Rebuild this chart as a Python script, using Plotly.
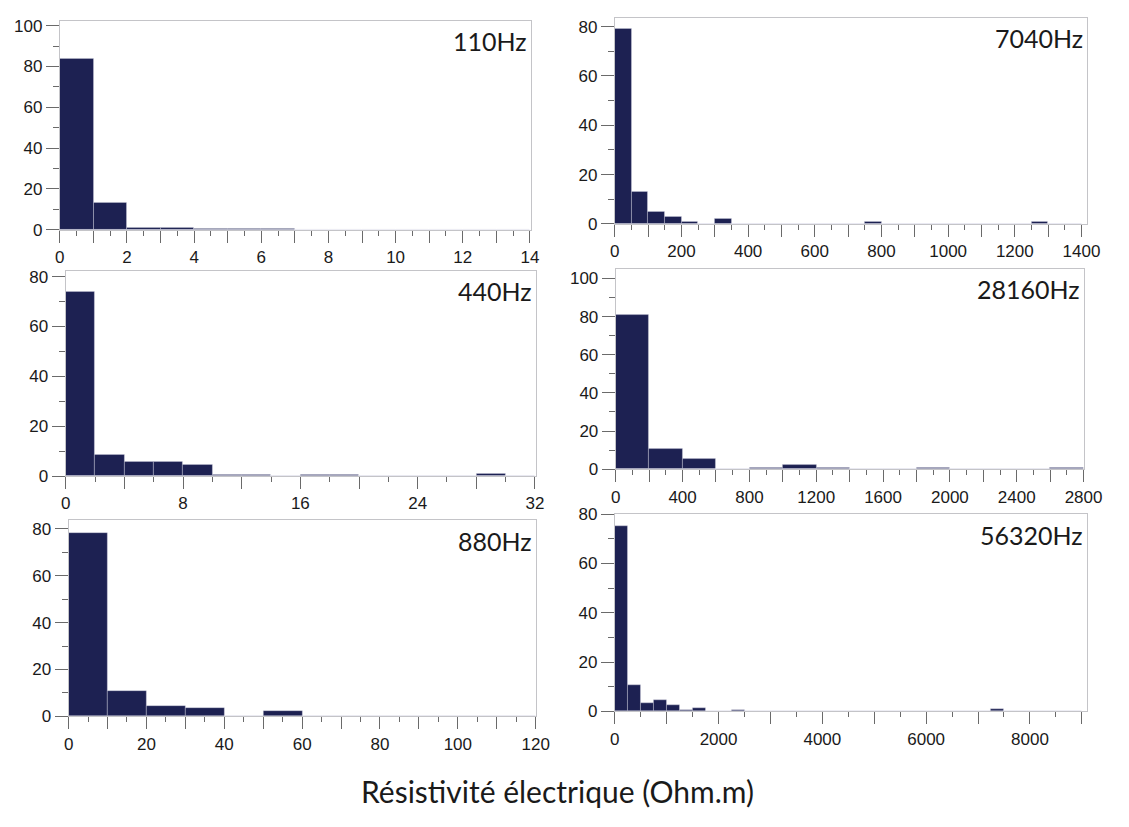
import plotly.graph_objects as go

# Histogram counts (%) of electrical resistivity for each frequency
labels = ["110Hz", "7040Hz", "440Hz", "28160Hz", "880Hz", "56320Hz"]
bin_widths = [1, 50, 2, 200, 10, 250]

counts_110 = [84, 13.5, 1.2, 1.2, 0.3, 0.3, 0.3, 0, 0, 0, 0, 0, 0, 0]
counts_7040 = [79, 13, 5, 3, 1, 0, 2, 0, 0, 0, 0, 0, 0, 0, 0, 1,
               0, 0, 0, 0, 0, 0, 0, 0, 0, 1, 0, 0]
counts_440 = [74, 8.5, 5.5, 5.5, 4.5, 0.5, 0.5, 0, 0.5, 0.5, 0, 0, 0, 0, 1, 0]
counts_28160 = [81, 10.5, 5.5, 0, 0.5, 2.5, 0.5, 0, 0, 0.5, 0, 0, 0, 0.5]
counts_880 = [78, 11, 4.5, 3.5, 0.3, 2.5, 0, 0, 0.2, 0, 0.3, 0]
counts_56320 = [75, 10.5, 3.5, 4.5, 2.5, 0.5, 1.5, 0.2, 0.2, 0.5, 0.2, 0,
                0.3, 0.3, 0, 0, 0, 0, 0, 0, 0, 0, 0, 0, 0, 0, 0, 0,
                0, 0.8, 0, 0, 0, 0, 0, 0]
all_counts = [counts_110, counts_7040, counts_440, counts_28160, counts_880, counts_56320]

# x tick labelling per panel: label step, major tick step, minor tick step, axis end
x_label_step = [2, 200, 8, 400, 20, 2000]
x_major_step = [1, 100, 4, 200, 10, 1000]
x_minor_step = [0.5, 50, 2, 100, 5, 500]
x_end = [14, 1400, 32, 2800, 120, 9000]
y_top_tick = [100, 80, 80, 100, 80, 80]

# Panel geometry in pixels: left, right, top, bottom of plot area; x/y range maxima
W, H = 1129, 827
boxes = [
    (56, 537, 12, 226),
    (623, 1105, 9, 220),
    (62, 543, 268, 478),
    (624, 1102, 266, 471),
    (65, 543, 523, 724),
    (623, 1105, 517, 719),
]
x_max = [14.02, 1415, 32.1, 2800, 120.2, 9090]
y_max = [102.4, 83.6, 82.35, 105, 83.75, 80]

BAR = "#1d2152"
FRAME = "#c4c4c8"
TICK = "#6a6a6a"
TXT = "#1a1a1a"
TICKFONT = dict(family="Liberation Sans", size=17, color=TXT)

fig = go.Figure()

for i in range(6):
    n = "" if i == 0 else str(i + 1)
    w = bin_widths[i]
    c = all_counts[i]
    centers = [w * (k + 0.5) for k in range(len(c))]
    fig.add_trace(go.Bar(
        x=centers, y=c, width=[w] * len(c),
        marker=dict(color=BAR, line=dict(color="rgba(215,215,230,0.6)", width=0.6)),
        xaxis="x" + n, yaxis="y" + n, showlegend=False,
    ))

    l, r, t, b = boxes[i]
    xdom = [l / W, r / W]
    ydom = [1 - b / H, 1 - t / H]

    step = x_major_step[i]
    nmaj = int(round(x_end[i] / step))
    tv = [step * k for k in range(nmaj + 1)]
    tt = []
    for v in tv:
        if abs(v / x_label_step[i] - round(v / x_label_step[i])) < 1e-9:
            tt.append(str(int(v)) if float(v).is_integer() else str(v))
        else:
            tt.append("")

    fig.layout["xaxis" + n] = dict(
        domain=xdom, anchor="y" + n, range=[0, x_max[i]],
        tickvals=tv, ticktext=tt, ticks="outside", ticklen=12,
        tickcolor=TICK, tickwidth=1,
        minor=dict(dtick=x_minor_step[i], tick0=0, ticks="outside", ticklen=5,
                   tickcolor=TICK, tickwidth=1),
        showline=True, linecolor=FRAME, linewidth=1, mirror=True,
        showgrid=False, zeroline=False,
        tickfont=TICKFONT,
        fixedrange=True,
    )
    fig.layout["yaxis" + n] = dict(
        domain=ydom, anchor="x" + n, range=[0, y_max[i]],
        tickvals=list(range(0, y_top_tick[i] + 1, 20)),
        ticks="outside", ticklen=13, tickcolor=TICK, tickwidth=1,
        minor=dict(dtick=10, tick0=0, ticks="outside", ticklen=6,
                   tickcolor=TICK, tickwidth=1),
        showline=True, linecolor=FRAME, linewidth=1, mirror=True,
        showgrid=False, zeroline=False,
        tickfont=TICKFONT,
        fixedrange=True,
    )
    fig.add_annotation(
        text=labels[i], xref="paper", yref="paper",
        x=(r - 2) / W, y=1 - (t + 21) / H, xanchor="right", yanchor="middle",
        showarrow=False,
        font=dict(family="Lato", size=25, color=TXT),
    )

fig.add_annotation(
    text="Résistivité électrique (Ohm.m)", xref="paper", yref="paper",
    x=565 / W, y=1 - 800 / H, xanchor="center", yanchor="middle",
    showarrow=False, font=dict(family="Lato", size=30, color=TXT),
)

fig.update_layout(
    width=W, height=H, margin=dict(l=0, r=0, t=0, b=0),
    paper_bgcolor="white", plot_bgcolor="white",
    bargap=0,
)

fig.write_html("out.html")
